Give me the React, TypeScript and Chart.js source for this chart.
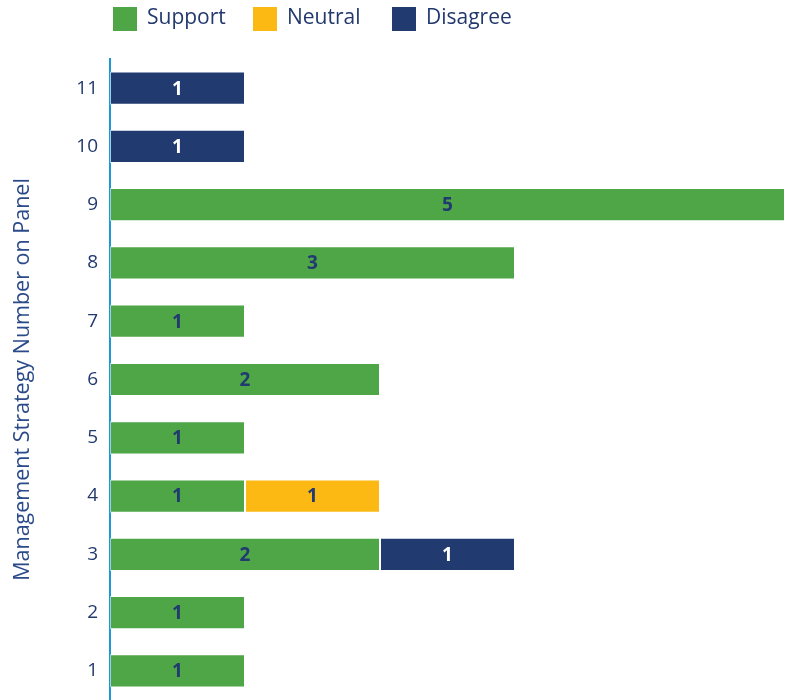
import React, { useEffect, useRef } from "react";
import { Chart, registerables } from "chart.js";

Chart.register(...registerables);

const categories = ["1", "2", "3", "4", "5", "6", "7", "8", "9", "10", "11"];
const supportValues = [1, 1, 2, 1, 1, 2, 1, 3, 5, null, null];
const neutralValues = [null, null, null, 1, null, null, null, null, null, null, null];
const disagreeValues = [null, null, 1, null, null, null, null, null, null, 1, 1];
const seriesNames = ["Support", "Neutral", "Disagree"];
const seriesColors = ["#4EA647", "#FDB913", "#213A70"];
const labelColors = ["#213A70", "#213A70", "#FFFFFF"];
const navy = "#22396E";
const axisBlue = "#1B98D5";
const fontFamily = "'Open Sans', 'Noto Sans', sans-serif";

const valueLabelPlugin = {
  id: "valueLabels",
  afterDatasetsDraw(chart: any) {
    const ctx = chart.ctx;
    ctx.save();
    ctx.font = `bold 19px ${fontFamily}`;
    ctx.textAlign = "center";
    ctx.textBaseline = "middle";
    chart.data.datasets.forEach((ds: any, di: number) => {
      const meta = chart.getDatasetMeta(di);
      meta.data.forEach((el: any, i: number) => {
        const v = ds.data[i];
        if (v === null || v === undefined) return;
        const c = el.getCenterPoint();
        ctx.fillStyle = labelColors[di];
        ctx.fillText(String(v), c.x, c.y + 1);
      });
    });
    ctx.restore();
  },
};

const legendPlugin = {
  id: "customLegend",
  afterDraw(chart: any) {
    const ctx = chart.ctx;
    const boxX = [113, 253, 392];
    ctx.save();
    ctx.font = `21px ${fontFamily}`;
    ctx.textBaseline = "middle";
    ctx.textAlign = "left";
    seriesNames.forEach((name, i) => {
      ctx.fillStyle = seriesColors[i];
      ctx.fillRect(boxX[i], 7, 24, 24);
      ctx.fillStyle = navy;
      ctx.fillText(name, boxX[i] + 34, 18);
    });
    ctx.restore();
  },
};

export default function App() {
  const ref = useRef<HTMLCanvasElement | null>(null);
  useEffect(() => {
    document.body.style.margin = "0";
    if (!ref.current) return;
    const chart = new Chart(ref.current, {
      type: "bar",
      data: {
        labels: categories,
        datasets: [supportValues, neutralValues, disagreeValues].map((d, i) => ({
          label: seriesNames[i],
          data: d,
          backgroundColor: seriesColors[i],
          borderColor: "rgba(255,255,255,0.55)",
          borderWidth: 1,
          borderSkipped: false,
          barPercentage: 0.57,
          categoryPercentage: 1,
        })),
      },
      options: {
        indexAxis: "y",
        animation: false,
        responsive: true,
        maintainAspectRatio: false,
        layout: { padding: { top: 59, right: 7, bottom: 0, left: 0 } },
        plugins: {
          legend: { display: false },
          tooltip: { enabled: false },
        },
        scales: {
          x: {
            stacked: true,
            display: false,
            min: 0,
            max: 5,
          },
          y: {
            stacked: true,
            reverse: true,
            grid: { display: false, drawTicks: false },
            border: { display: true, color: axisBlue, width: 2 },
            ticks: {
              color: navy,
              font: { family: fontFamily, size: 19 },
              padding: 12,
            },
            title: {
              display: true,
              text: "Management Strategy Number on Panel",
              color: "#2B4A8A",
              font: { family: fontFamily, size: 21.5 },
              padding: { top: 10, bottom: 0 },
            },
            afterFit(scale: any) {
              scale.width = 110;
              scale.paddingTop = 0;
              scale.paddingBottom = 0;
            },
          },
        },
      } as any,
      plugins: [valueLabelPlugin, legendPlugin],
    });
    return () => chart.destroy();
  }, []);
  return (
    <div style={{ width: 792, height: 700, position: "relative" }}>
      <canvas ref={ref} />
    </div>
  );
}
